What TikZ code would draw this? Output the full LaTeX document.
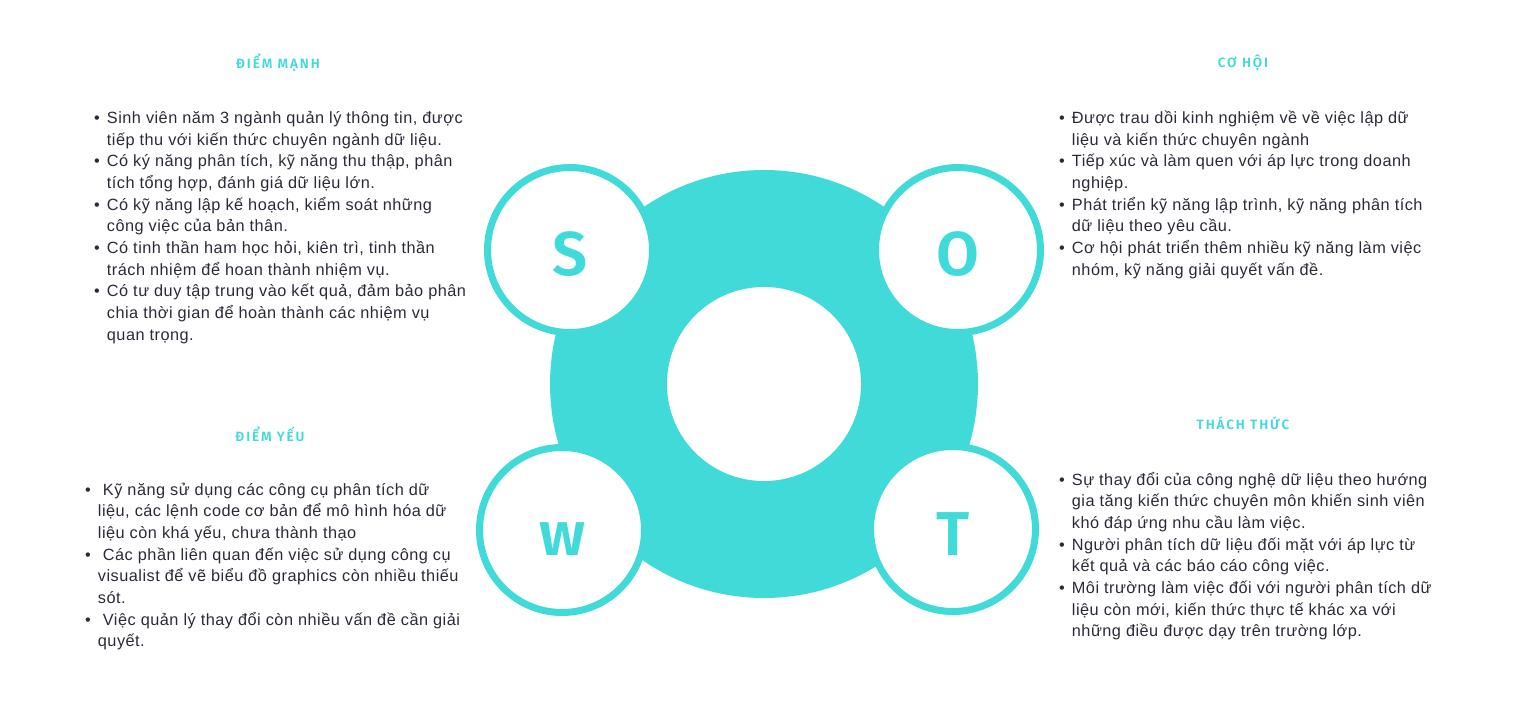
\documentclass[tikz,border=0pt]{standalone}
\usepackage{fontspec}
\setmainfont[LetterSpace=3]{Liberation Sans}
\newfontfamily\headfamily[LetterSpace=14]{Fira Sans SemiBold}
\newfontfamily\letterfamily{Fira Sans SemiBold}
\usepackage{tikz}
\usepackage{xcolor}
\definecolor{swotteal}{RGB}{64,219,216}
\definecolor{bodytext}{RGB}{42,42,56}
\newcommand{\bodyfont}{\fontsize{16.3}{21.67}\selectfont}
\newcommand{\itembullet}{\textbullet}

\begin{document}
\begin{tikzpicture}[x=1pt, y=-1pt,
    ring/.style={circle, draw=swotteal, line width=7pt, fill=white, minimum size=165pt, inner sep=0pt},
    letter/.style={swotteal, font=\letterfamily\fontsize{62}{62}\selectfont},
    heading/.style={swotteal, font=\headfamily\fontsize{13.5}{13.5}\selectfont},
    block/.style={anchor=base west, inner sep=0pt, text=bodytext, font=\bodyfont}]
    \useasboundingbox (0,0) rectangle (1532,725);

    % core ring
    \node[circle, fill=swotteal, minimum size=428pt, inner sep=0pt] (core) at (764,384) {};
    \node[circle, fill=white, minimum size=194pt, inner sep=0pt] (hole) at (core.center) {};

    % letter circles
    \node[ring] (s) at (570,250) {};
    \node[ring] (o) at (958,250) {};
    \node[ring] (w) at (562,530) {};
    \node[ring] (t) at (953,529) {};
    \node[letter] (sl) at ([yshift=-4pt]s.center) {S};
    \node[letter] (ol) at ([yshift=-4pt]o.center) {O};
    \node[letter] (wl) at ([yshift=-9pt]w.center) {w};
    \node[letter] (tl) at ([yshift=-5pt]t.center) {T};

    % headings
    \node[heading] (sh) at (278,63) {ĐIỂM MẠNH};
    \node[heading] (oh) at (1243,63) {CƠ HỘI};
    \node[heading] (wh) at (270,434) {ĐIỂM YẾU};
    \node[heading] (th) at (1243,423) {THÁCH THỨC};

    % strengths
    \node[block] (sb) at (94,123.5) {\begin{tabular}[t]{@{}c@{\hspace{7pt}}l@{}}
        \itembullet & Sinh viên năm 3 ngành quản lý thông tin, được\\
        & tiếp thu với kiến thức chuyên ngành dữ liệu.\\
        \itembullet & Có ký năng phân tích, kỹ năng thu thập, phân\\
        & tích tổng hợp, đánh giá dữ liệu lớn.\\
        \itembullet & Có kỹ năng lập kế hoạch, kiểm soát những\\
        & công việc của bản thân.\\
        \itembullet & Có tinh thần ham học hỏi, kiên trì, tinh thần\\
        & trách nhiệm để hoan thành nhiệm vụ.\\
        \itembullet & Có tư duy tập trung vào kết quả, đảm bảo phân\\
        & chia thời gian để hoàn thành các nhiệm vụ\\
        & quan trọng.
    \end{tabular}};

    % opportunities
    \node[block] (ob) at (1059,123.5) {\begin{tabular}[t]{@{}c@{\hspace{7pt}}l@{}}
        \itembullet & Được trau dồi kinh nghiệm về về việc lập dữ\\
        & liệu và kiến thức chuyên ngành\\
        \itembullet & Tiếp xúc và làm quen với áp lực trong doanh\\
        & nghiệp.\\
        \itembullet & Phát triển kỹ năng lập trình, kỹ năng phân tích\\
        & dữ liệu theo yêu cầu.\\
        \itembullet & Cơ hội phát triển thêm nhiều kỹ năng làm việc\\
        & nhóm, kỹ năng giải quyết vấn đề.
    \end{tabular}};

    % weaknesses
    \node[block] (wb) at (85,495) {\begin{tabular}[t]{@{}c@{\hspace{7pt}}l@{}}
        \itembullet & \ Kỹ năng sử dụng các công cụ phân tích dữ\\
        & liệu, các lệnh code cơ bản để mô hình hóa dữ\\
        & liệu còn khá yếu, chưa thành thạo\\
        \itembullet & \ Các phần liên quan đến việc sử dụng công cụ\\
        & visualist để vẽ biểu đồ graphics còn nhiều thiếu\\
        & sót.\\
        \itembullet & \ Việc quản lý thay đổi còn nhiều vấn đề cần giải\\
        & quyết.
    \end{tabular}};

    % threats
    \node[block] (tb) at (1059,485) {\begin{tabular}[t]{@{}c@{\hspace{7pt}}l@{}}
        \itembullet & Sự thay đổi của công nghệ dữ liệu theo hướng\\
        & gia tăng kiến thức chuyên môn khiến sinh viên\\
        & khó đáp ứng nhu cầu làm việc.\\
        \itembullet & Người phân tích dữ liệu đối mặt với áp lực từ\\
        & kết quả và các báo cáo công việc.\\
        \itembullet & Môi trường làm việc đối với người phân tích dữ\\
        & liệu còn mới, kiến thức thực tế khác xa với\\
        & những điều được dạy trên trường lớp.
    \end{tabular}};
\end{tikzpicture}
\end{document}
